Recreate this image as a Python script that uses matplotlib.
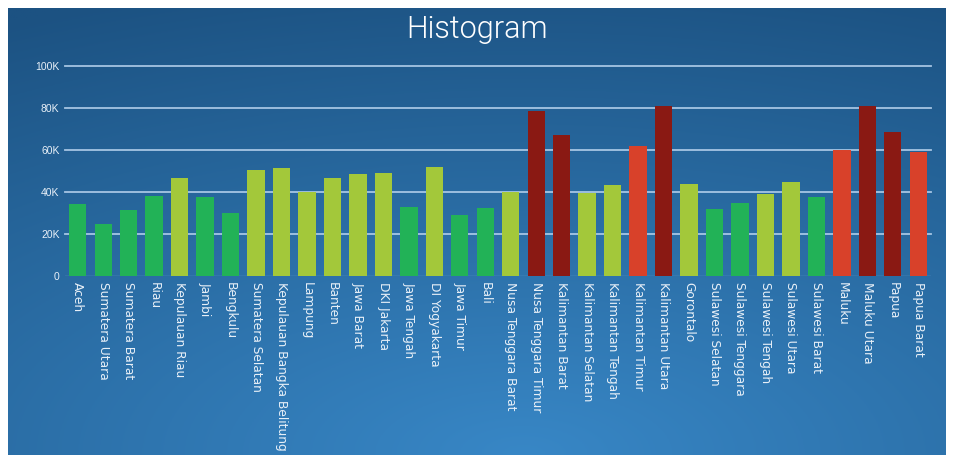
import numpy as np
import matplotlib
matplotlib.use("Agg")
import matplotlib.pyplot as plt

provinces = ["Aceh", "Sumatera Utara", "Sumatera Barat", "Riau", "Kepulauan Riau", "Jambi",
             "Bengkulu", "Sumatera Selatan", "Kepulauan Bangka Belitung", "Lampung", "Banten",
             "Jawa Barat", "DKI Jakarta", "Jawa Tengah", "DI Yogyakarta", "Jawa Timur", "Bali",
             "Nusa Tenggara Barat", "Nusa Tenggara Timur", "Kalimantan Barat", "Kalimantan Selatan",
             "Kalimantan Tengah", "Kalimantan Timur", "Kalimantan Utara", "Gorontalo",
             "Sulawesi Selatan", "Sulawesi Tenggara", "Sulawesi Tengah", "Sulawesi Utara",
             "Sulawesi Barat", "Maluku", "Maluku Utara", "Papua", "Papua Barat"]
values = [34500, 25000, 31500, 38000, 46500, 37500, 30000, 50500, 51500, 40000, 46500,
          48500, 49000, 33000, 52000, 29000, 32500, 40000, 78500, 67000, 39700, 43500,
          61700, 81000, 44000, 32000, 35000, 39000, 45000, 37700, 60000, 81000, 68500, 59000]
levels = [0, 0, 0, 0, 1, 0, 0, 1, 1, 1, 1, 1, 1, 0, 1, 0, 0, 1, 3, 3, 1, 1, 2, 3, 1,
          0, 0, 1, 1, 0, 2, 3, 3, 2]
yticks = [0, 20000, 40000, 60000, 80000, 100000]
ytick_labels = ["0", "20K", "40K", "60K", "80K", "100K"]

level_colors = {0: "#22b257", 1: "#a3c83a", 2: "#d8412a", 3: "#8a1913"}

W, H = 954, 458
fig = plt.figure(figsize=(W / 100, H / 100), dpi=100)
fig.patch.set_facecolor("white")

# gradient background
bg = fig.add_axes([8 / W, 3 / H, 938 / W, 447 / H])
ny, nx = 200, 400
yy, xx = np.mgrid[0:1:ny * 1j, 0:1:nx * 1j]
d = np.sqrt(((xx - 0.55) * 1.0) ** 2 + ((yy - 0.0) * 1.1) ** 2)
d = np.clip(d / 1.2, 0, 1)
c_light = np.array([0x38, 0x87, 0xc6]) / 255
c_dark = np.array([0x1c, 0x52, 0x82]) / 255
img = c_light[None, None, :] * (1 - d[..., None]) + c_dark[None, None, :] * d[..., None]
bg.imshow(img, origin="lower", aspect="auto", extent=[0, 1, 0, 1])
bg.set_axis_off()

ax = fig.add_axes([65 / W, 182 / H, 866 / W, 210 / H])
ax.set_facecolor("none")
x = np.arange(len(provinces))
ax.bar(x, values, width=0.68, color=[level_colors[l] for l in levels], zorder=3)
ax.set_xlim(-0.5, len(provinces) - 0.5)
ax.set_ylim(0, 100000)
ax.set_yticks(yticks)
ax.set_yticklabels(ytick_labels)
for t in yticks[1:]:
    ax.axhline(t, color="#b4d0ec", lw=1.3, zorder=1, clip_on=False, alpha=0.9)
ax.axhline(0, color="#5d97c9", lw=1.0, zorder=1)
ax.set_xticks(x)
ax.set_xticklabels(provinces, rotation=270, ha="center", va="top",
                   family="DejaVu Sans", fontsize=8.8, color="#e8f0f8")
for lab in ax.get_yticklabels():
    lab.set_family("Liberation Sans")
    lab.set_fontsize(7.5)
    lab.set_color("#e8f0f8")
ax.tick_params(length=0, pad=4)
for s in ax.spines.values():
    s.set_visible(False)

fig.text(0.5, 1 - 30 / H, "Histogram", ha="center", va="center", color="#ffffff",
         fontsize=22, family="Roboto", fontweight=300)

fig.savefig("out.png", dpi=100, facecolor="white")
